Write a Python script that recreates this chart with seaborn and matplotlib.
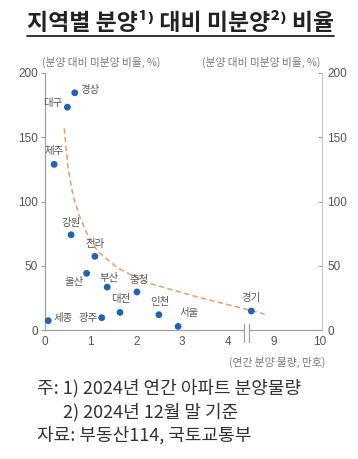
import numpy as np
import pandas as pd
import matplotlib
matplotlib.use('Agg')
import matplotlib.pyplot as plt
import seaborn as sns
from matplotlib.lines import Line2D
from matplotlib.patches import Rectangle

# 지역별 연간 분양물량(만호)과 분양 대비 미분양 비율(%)
regions = ['경상', '대구', '제주', '강원', '전라', '울산', '부산',
           '충청', '대전', '광주', '세종', '인천', '서울', '경기']
supply = [0.65, 0.49, 0.20, 0.57, 1.09, 0.91, 1.36,
          2.01, 1.64, 1.24, 0.07, 2.49, 2.91, 8.51]
ratio = [184.6, 173.4, 128.9, 74.1, 57.3, 44.1, 33.4,
         29.6, 13.7, 9.6, 7.3, 11.9, 2.8, 14.8]

# trend line
trend_x = [0.42, 0.51, 0.62, 0.76, 0.95, 1.16, 1.60, 1.86, 2.29, 3.31, 4.04, 4.40, 8.40, 8.80]
trend_y = [156.9, 124.4, 103.7, 88.1, 72.6, 60.9, 48.0, 43.3, 36.3, 25.9, 19.4, 16.2, 16.2, 12.4]

x_ticks = [0, 1, 2, 3, 4, 9, 10]
y_ticks = [0, 50, 100, 150, 200]

# label placement (pixels from the dot)
label_pos = {
    '경상': (6, 3, 'left'), '대구': (-5, 4, 'right'), '제주': (0, 13, 'center'),
    '강원': (0, 12, 'center'), '전라': (0, 12, 'center'), '울산': (-3, -9, 'right'),
    '부산': (2, 9, 'center'), '충청': (2, 12, 'center'), '대전': (1, 13, 'center'),
    '광주': (-4, 0, 'right'), '세종': (5, 3, 'left'), '인천': (1, 13, 'center'),
    '서울': (11, 13, 'center'), '경기': (0, 13, 'center'),
}

# broken x axis: the stretch 4.4 ~ 8.4 is cut out
LO, HI = 4.4, 8.4


def cut(x):
    x = np.asarray(x, dtype=float)
    return np.where(x <= LO, x, np.maximum(x - (HI - LO), LO))


df = pd.DataFrame({'region': regions, 'supply': supply, 'ratio': ratio})
df['xp'] = cut(df['supply'])
trend = pd.DataFrame({'x': cut(trend_x), 'y': trend_y})

sns.set_style('white')
plt.rcParams['font.family'] = ['Noto Sans CJK KR', 'DejaVu Sans']

fig = plt.figure(figsize=(3.58, 4.59), dpi=100)
ax = fig.add_axes([0.1257, 0.281, 0.773, 0.560])

sns.lineplot(data=trend, x='x', y='y', sort=False, estimator=None, ax=ax,
             color='#ec9d63', lw=1.1, linestyle=(0, (3.5, 2.2)))
sns.scatterplot(data=df, x='xp', y='ratio', ax=ax, color='#1f63b5',
                s=24, edgecolor='none', zorder=5, clip_on=False)

for r, xv, yv in zip(df['region'], df['xp'], df['ratio']):
    dx, dy, ha = label_pos[r]
    ax.annotate(r, (xv, yv), xytext=(dx, dy), textcoords='offset pixels',
                ha=ha, va='center', fontsize=7.5, color='#555555')

ax.set_xlim(0, cut(10.05))
ax.set_ylim(0, 200)
ax.set_xticks(cut(x_ticks))
ax.set_xticklabels([str(t) for t in x_ticks])
ax.set_yticks(y_ticks)
ax.set_xlabel('')
ax.set_ylabel('')

ax2 = ax.twinx()
ax2.set_ylim(0, 200)
ax2.set_yticks(y_ticks)

gray = '#a0a0a0'
for s in ['top', 'right']:
    ax.spines[s].set_visible(False)
for s in ['top', 'left', 'bottom']:
    ax2.spines[s].set_visible(False)
for s in ['left', 'bottom']:
    ax.spines[s].set_color(gray)
    ax.spines[s].set_linewidth(0.9)
ax2.spines['right'].set_color('#c8c8c8')
ax2.spines['right'].set_linewidth(0.9)

ax.tick_params(axis='x', direction='in', length=3, color=gray, pad=4,
               labelsize=8.5, labelcolor='#555555')
ax.tick_params(axis='y', direction='out', length=3, color=gray, pad=2,
               labelsize=8.5, labelcolor='#555555')
ax2.tick_params(axis='y', direction='in', length=3, color=gray, pad=4,
                labelsize=8.5, labelcolor='#555555')
for lab in ax.get_xticklabels() + ax.get_yticklabels() + ax2.get_yticklabels():
    lab.set_fontfamily('Liberation Sans')

# axis break marks
bt = ax.get_xaxis_transform()
b0, b1 = 4.345, 4.47
ax.add_patch(Rectangle((b0, -0.05), b1 - b0, 0.08, transform=bt,
                       facecolor='white', edgecolor='none', clip_on=False, zorder=6))
for bx in [b0, b1]:
    ax.add_line(Line2D([bx, bx], [-0.047, 0.025], transform=bt, color=gray,
                       lw=0.9, clip_on=False, zorder=7))

# unit labels
unit_kw = dict(fontsize=7.7, color='#777777', va='center')
fig.text(0.117, 0.863, '(분양 대비 미분양 비율, %)', ha='left', **unit_kw)
fig.text(0.894, 0.863, '(분양 대비 미분양 비율, %)', ha='right', **unit_kw)
fig.text(0.908, 0.211, '(연간 분양 물량, 만호)', ha='right', **unit_kw)

# title with underline
title = fig.text(0.503, 0.949, '지역별 분양¹⁾ 대비 미분양²⁾ 비율', ha='center', va='center',
                 fontsize=16.5, fontweight='bold', color='#222222')
fig.canvas.draw()
bb = title.get_window_extent()
fig.add_artist(Line2D([bb.x0, bb.x1], [bb.y0 - 1.5, bb.y0 - 1.5], transform=None,
                      color='#222222', lw=1.3))

# notes
note_kw = dict(fontsize=13, color='#333333', va='center', ha='left')
fig.text(0.103, 0.155, '주: 1) 2024년 연간 아파트 분양물량', **note_kw)
fig.text(0.176, 0.102, '2) 2024년 12월 말 기준', **note_kw)
fig.text(0.103, 0.052, '자료: 부동산114, 국토교통부', **note_kw)

fig.savefig('out.png', dpi=100)
